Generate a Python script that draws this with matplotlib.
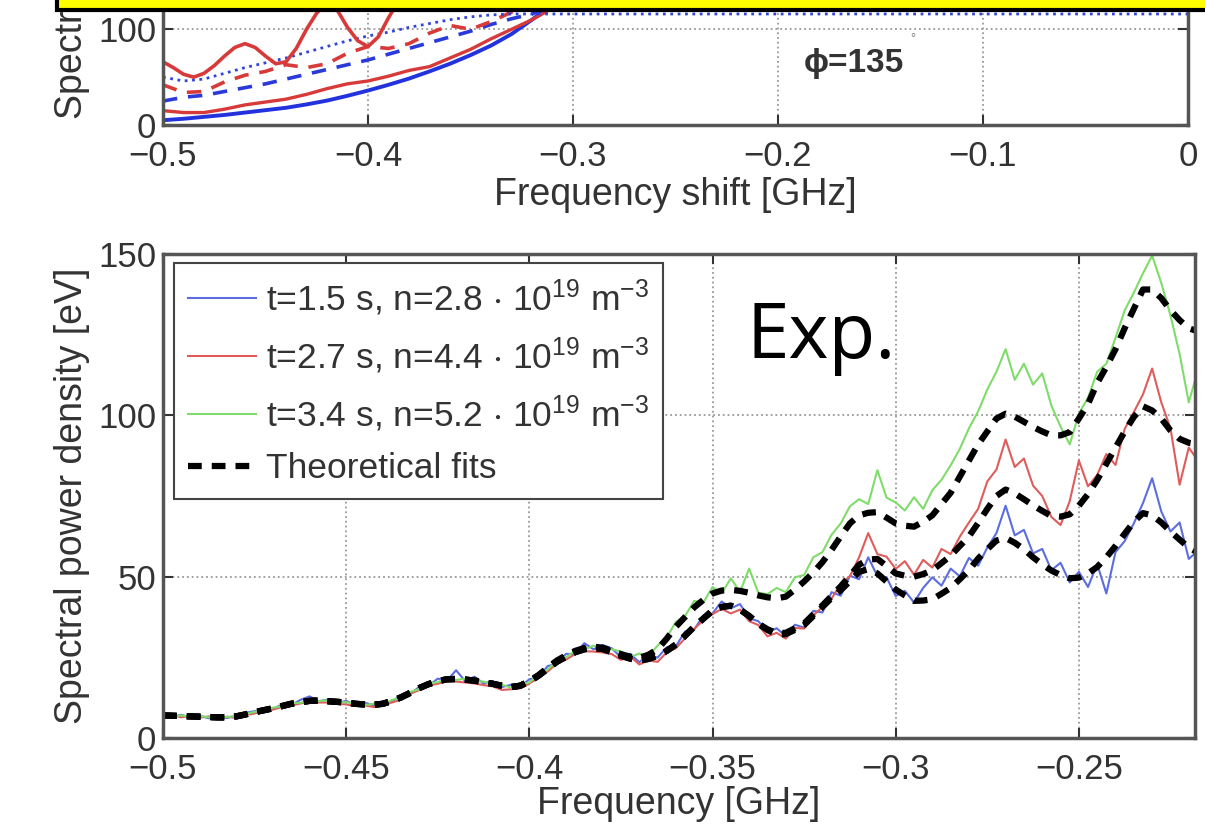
import matplotlib.pyplot as plt
import numpy as np
from matplotlib.patches import Rectangle

plt.rcParams['font.family'] = ['Liberation Sans', 'DejaVu Sans']
plt.rcParams['mathtext.default'] = 'regular'

W, H = 1205, 833

# ---------------- top panel (phi = 135 deg, mostly cut off) ----------------
top_x = [-0.50, -0.49, -0.48, -0.47, -0.46, -0.45, -0.44, -0.43, -0.42, -0.41, -0.40,
         -0.39, -0.38, -0.37, -0.36, -0.35, -0.34, -0.33, -0.32, -0.31, -0.30]
top_blue_solid = [5, 6.5, 8.5, 10.5, 13, 15.5, 18, 21.5, 25.5, 30.5, 36,
                  42, 48.5, 56, 64, 73, 83, 95, 110, 126, 145]
top_red_solid = [15, 13, 13, 16.5, 21, 24, 27, 32, 38, 43, 46,
                 51, 57, 61, 70, 79, 90, 100, 110, 122, 136]
top_blue_dashed = [25, 29, 31, 35, 39, 43, 48, 53, 58, 63, 68,
                   74, 80, 86, 92, 98, 105, 111, 116, 125, 138]
top_red_dashed = [42, 34, 35, 45, 52, 56, 63, 60, 64, 75, 82,
                  80, 85, 96, 104, 100, 108, 118, 125, 135, 150]
top_dot_x = top_x + [-0.2, -0.1, 0.0]
top_blue_dotted = [50, 46, 48, 54, 60, 65, 70, 76, 82, 88, 93,
                   97, 102, 106, 110, 113, 115, 116, 116, 116, 116, 116, 116, 116]
top_osc_x = [-0.500, -0.495, -0.490, -0.485, -0.480, -0.475, -0.470, -0.465, -0.460,
             -0.455, -0.450, -0.445, -0.440, -0.435, -0.430, -0.425, -0.420, -0.415,
             -0.410, -0.405, -0.400, -0.395, -0.390, -0.385, -0.380]
top_red_osc = [66, 60, 53, 50, 54, 62, 72, 81, 85, 81, 72, 64, 66, 80, 100, 117, 128,
               120, 102, 88, 82, 92, 112, 130, 145]

# ---------------- bottom panel (experiment) ----------------
exp_x = np.round(-0.5 + 0.0025 * np.arange(114), 4)

fit_common = [7.0, 6.9, 6.8, 6.7, 6.6, 6.5, 6.4, 6.4, 6.7, 7.3,
              8.0, 8.6, 9.2, 9.9, 10.6, 11.1, 11.5, 11.6, 11.4, 11.2,
              11.0, 10.6, 10.4, 10.3, 10.6, 11.5, 12.6, 14.0, 15.5, 16.7,
              17.6, 18.2, 18.3, 18.1, 17.8, 17.3, 16.8, 16.2, 15.8, 16.2]
fit_blue = fit_common + [17.5, 19.3, 21.5, 23.6, 25.2, 26.6, 27.5, 27.9, 27.6,
    26.6, 25.5, 24.6, 24.0, 24.5, 25.5, 27.0, 29.0, 31.7, 34.5,
    37.0, 39.5, 40.6, 41.0, 39.8, 37.8, 35.4, 33.5, 32.1, 32.2,
    33.5, 35.0, 37.8, 40.6, 43.4, 45.8, 48.6, 51.5, 52.3, 51.0,
    48.5, 46.0, 44.2, 42.5, 42.6, 43.0, 44.7, 46.5, 49.2, 52.0,
    55.6, 58.5, 61.2, 62.0, 60.5, 58.5, 56.0, 53.8, 51.9, 50.5,
    49.5, 49.7, 51.0, 53.0, 56.0, 59.5, 63.3, 67.0, 69.7, 69.0,
    66.8, 64.0, 61.5, 59.0, 57.5]
fit_red = fit_common + [17.5, 19.3, 21.5, 23.6, 25.2, 26.6, 27.5, 27.9, 27.6,
    26.6, 25.5, 24.6, 24.0, 24.5, 25.5, 27.0, 29.0, 31.7, 34.5,
    37.0, 39.5, 40.6, 41.0, 39.8, 37.8, 35.4, 33.7, 32.5, 32.6,
    34.0, 35.5, 38.3, 41.1, 44.0, 47.0, 50.3, 53.7, 55.3, 55.5,
    53.3, 51.0, 50.3, 50.0, 50.8, 52.0, 54.2, 56.5, 59.5, 62.5,
    66.6, 71.0, 75.0, 77.0, 75.8, 74.0, 72.1, 70.4, 68.8, 68.6,
    69.3, 72.0, 75.6, 80.0, 85.0, 90.0, 95.0, 99.5, 102.8, 101.5,
    99.0, 95.3, 92.7, 91.5, 91.0]
fit_green = fit_common + [17.7, 19.5, 21.8, 24.0, 25.6, 27.0, 27.9, 28.3, 28.0,
    27.0, 26.0, 25.2, 24.8, 25.8, 27.5, 30.8, 34.5, 37.5, 40.5,
    42.8, 44.8, 45.7, 45.9, 45.6, 45.0, 44.2, 43.6, 43.3, 43.8,
    46.0, 48.5, 51.3, 54.5, 58.3, 62.5, 66.5, 69.0, 69.8, 70.0,
    68.3, 66.5, 65.8, 65.5, 67.0, 69.0, 72.5, 76.0, 81.0, 86.0,
    91.0, 95.0, 99.0, 100.5, 99.6, 98.0, 96.4, 95.0, 93.8, 93.8,
    94.8, 99.0, 103.5, 110.0, 115.0, 120.5, 127.0, 133.0, 139.0, 139.0,
    136.3, 132.6, 129.5, 127.0, 126.0]

exp_blue = [7.4, 6.6, 7.2, 6.3, 6.9, 6.1, 6.7, 6.2, 7.0, 7.8,
    8.3, 8.9, 9.0, 10.4, 10.2, 11.8, 12.9, 11.4, 11.9, 10.8,
    11.5, 10.3, 11.0, 10.1, 10.9, 11.2, 13.4, 13.6, 15.9, 16.2,
    18.4, 17.8, 21.0, 17.6, 19.0, 16.9, 17.6, 15.8, 16.5, 15.9,
    18.2, 18.8, 22.3, 23.0, 26.1, 25.9, 29.4, 27.5, 28.8,
    27.8, 25.0, 26.1, 23.5, 25.8, 24.9, 28.1, 28.4, 33.0, 33.6,
    38.0, 38.6, 42.3, 40.2, 41.5, 37.1, 36.2, 32.8, 34.0, 31.6,
    35.1, 34.2, 39.4, 38.9, 45.2, 44.1, 50.3, 49.2, 56.0, 50.2,
    49.8, 44.0, 45.6, 42.0, 46.5, 49.8, 47.2, 52.5, 50.1, 55.8,
    53.4, 59.0, 63.5, 72.0, 62.8, 64.5, 57.2, 58.6, 52.0, 54.3,
    48.2, 51.5, 46.8, 53.9, 44.8, 57.6, 61.0, 66.5, 72.8, 80.5,
    70.2, 64.0, 66.8, 55.5, 58.0]
exp_red = [6.8, 7.1, 6.4, 6.9, 6.3, 6.7, 6.0, 6.6, 6.2, 7.1,
    7.6, 8.4, 8.8, 9.6, 10.1, 10.7, 11.2, 11.0, 11.0, 10.6,
    10.4, 9.9, 10.1, 9.6, 10.3, 11.0, 11.9, 13.7, 14.9, 16.3,
    16.8, 17.6, 17.5, 17.2, 16.9, 16.4, 16.0, 14.9, 15.1, 15.4,
    16.9, 18.7, 20.6, 23.1, 24.3, 26.0, 26.9, 26.8, 26.5,
    26.0, 24.2, 25.3, 22.8, 24.0, 23.6, 26.5, 27.8, 30.9, 33.8,
    36.5, 38.4, 40.0, 38.6, 39.8, 36.2, 35.0, 31.5, 32.6, 30.8,
    34.1, 33.9, 38.0, 40.6, 43.2, 47.8, 50.1, 56.0, 63.5, 57.0,
    56.2, 52.4, 54.8, 50.6, 55.2, 52.8, 58.6, 57.0, 62.4, 66.8,
    71.0, 79.5, 83.2, 92.5, 84.0, 86.6, 78.2, 75.0, 68.5, 66.0,
    73.4, 86.0, 78.0, 81.5, 88.0, 84.6, 95.8, 101.0, 106.5, 114.5,
    104.0, 96.0, 78.5, 90.0, 86.0]
exp_green = [7.1, 6.8, 7.0, 6.5, 6.8, 6.4, 6.6, 6.5, 6.8, 7.4,
    8.1, 8.5, 9.4, 9.8, 10.8, 10.9, 11.7, 11.4, 11.7, 11.0,
    11.1, 10.7, 10.2, 10.6, 10.4, 11.8, 12.4, 14.3, 15.2, 17.0,
    17.3, 18.5, 18.0, 18.4, 17.6, 17.5, 16.6, 16.5, 15.6, 16.6,
    17.2, 19.8, 21.2, 24.0, 25.0, 27.1, 27.4, 28.6, 27.9,
    27.5, 26.8, 25.0, 26.2, 25.4, 28.6, 31.2, 36.0, 37.8, 42.5,
    42.0, 46.8, 44.8, 49.5, 45.3, 52.5, 45.0, 44.6, 46.5, 45.2,
    49.8, 50.5, 56.0, 57.6, 63.0, 66.5, 71.8, 74.0, 72.5, 83.0,
    74.5, 73.0, 70.5, 74.6, 71.0, 76.8, 80.0, 84.5, 89.6, 96.0,
    101.2, 108.0, 113.5, 120.5, 111.0, 116.0, 109.5, 113.0, 103.0, 96.5,
    91.0, 100.5, 105.5, 113.5, 116.0, 124.0, 132.5, 138.0, 144.0, 149.5,
    141.0, 131.0, 119.0, 104.0, 114.0]

labels = [r't=1.5 s, n=2.8 $\cdot$ 10$^{19}$ m$^{-3}$',
          r't=2.7 s, n=4.4 $\cdot$ 10$^{19}$ m$^{-3}$',
          r't=3.4 s, n=5.2 $\cdot$ 10$^{19}$ m$^{-3}$',
          'Theoretical fits']


def style_axes(ax):
    for s in ax.spines.values():
        s.set_color('#555555')
        s.set_linewidth(2.5)
    ax.tick_params(direction='in', length=7, width=1.5, top=True, right=True,
                   labelsize=25, colors='#333333')
    ax.tick_params(axis='x', pad=11)
    ax.tick_params(axis='y', pad=5)
    ax.grid(True, ls=':', color='#999999', lw=1.3)


fig = plt.figure(figsize=(W / 100, H / 100), dpi=100)

# top panel
ax1 = fig.add_axes([163 / W, 1 - 125 / H, 1025 / W, 468 / H])
ax1.plot(top_x, top_blue_solid, color='#2233dd', lw=2.8)
ax1.plot(top_x, top_red_solid, color='#d83a3a', lw=2.4)
ax1.plot(top_x, top_blue_dashed, color='#2a3ad8', lw=2.6, dashes=(4, 3))
ax1.plot(top_x, top_red_dashed, color='#d83a3a', lw=2.6, dashes=(4, 3))
ax1.plot(top_dot_x, top_blue_dotted, color='#3344dd', lw=2.0, ls=':')
ax1.plot(top_osc_x, top_red_osc, color='#d83a3a', lw=2.6)
ax1.set_xlim(-0.5, 0)
ax1.set_ylim(0, 489)
ax1.set_xticks([-0.5, -0.4, -0.3, -0.2, -0.1, 0])
ax1.set_xticklabels(['−0.5', '−0.4', '−0.3', '−0.2', '−0.1', '0'])
ax1.set_yticks([0, 100, 200, 300, 400])
style_axes(ax1)
ax1.set_xlabel('Frequency shift [GHz]', fontsize=27, color='#333333', labelpad=3)
ax1.set_ylabel('Spectral power density [eV]', fontsize=27, color='#333333', labelpad=6)
fig.text(804 / W, 1 - 72 / H, 'ϕ=135', fontsize=24, fontweight='bold',
         color='#333333', va='baseline')
fig.text(910 / W, 1 - 42 / H, '°', fontsize=9, color='#777777', va='baseline')

# bottom panel
ax2 = fig.add_axes([163 / W, 1 - 738 / H, 1032 / W, 484 / H])
ax2.plot(exp_x, exp_blue, color='#5b6de0', lw=1.5, label=labels[0])
ax2.plot(exp_x, exp_red, color='#e05c5c', lw=1.5, label=labels[1])
ax2.plot(exp_x, exp_green, color='#7fdc6a', lw=1.5, label=labels[2])
ax2.plot(exp_x, fit_blue, color='black', lw=4.5, dashes=(2.2, 1.6), label=labels[3])
ax2.plot(exp_x, fit_red, color='black', lw=4.5, dashes=(2.2, 1.6))
ax2.plot(exp_x, fit_green, color='black', lw=4.5, dashes=(2.2, 1.6))
ax2.set_xlim(-0.5, -0.2183)
ax2.set_ylim(0, 150)
ax2.set_xticks([-0.5, -0.45, -0.4, -0.35, -0.3, -0.25])
ax2.set_xticklabels(['−0.5', '−0.45', '−0.4', '−0.35', '−0.3', '−0.25'])
ax2.set_yticks([0, 50, 100, 150])
style_axes(ax2)
ax2.set_xlabel('Frequency [GHz]', fontsize=27, color='#333333', labelpad=0)
ax2.set_ylabel('Spectral power density [eV]', fontsize=27, color='#333333', labelpad=6)

leg = ax2.legend(loc='upper left', bbox_to_anchor=(0.0107, 0.981), borderaxespad=0,
                 fontsize=25.5, fancybox=False, edgecolor='#444444', framealpha=1,
                 handlelength=1.9, handletextpad=0.3, labelspacing=0.5, borderpad=0.4)
leg.get_frame().set_linewidth(1.5)
for t in leg.get_texts():
    t.set_color('#333333')

fig.text(747 / W, 1 - 358 / H, 'Exp.', fontsize=55, family='Open Sans',
         color='black', va='baseline')

# yellow banner clipped at the top
fig.add_artist(Rectangle((57 / W, 1 - 10 / H), 1.0, 0.2, transform=fig.transFigure,
                         facecolor='#ffff00', edgecolor='black', lw=3, zorder=10))

fig.savefig('out.png', dpi=100)
